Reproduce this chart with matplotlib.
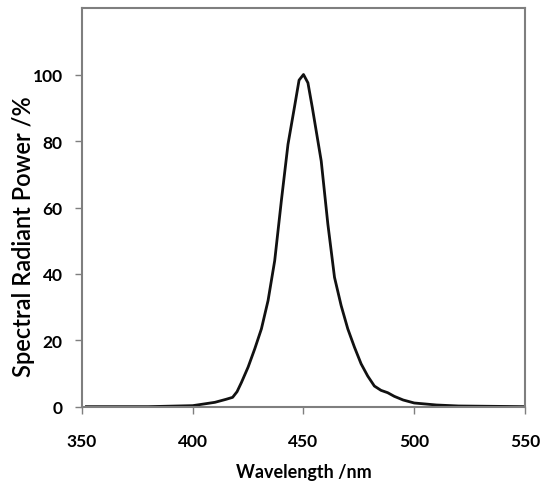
import matplotlib.pyplot as plt

# wavelength (nm) and relative spectral power (%)
wavelength = [352, 380, 400, 405, 410, 415, 418, 420, 422, 425, 428, 431, 434,
              437, 440, 443, 446, 448, 450, 452, 454, 456, 458, 461, 464, 467,
              470, 473, 476, 479, 482, 485, 488, 491, 495, 500, 505, 510, 520, 550]
power = [0.1, 0.1, 0.4, 0.9, 1.4, 2.3, 2.9, 4.6, 7.4, 12, 17.5, 23.5, 32,
         44, 62, 79, 90.5, 98.3, 100, 97.5, 90, 82, 74, 55, 39, 30.5,
         23.5, 18, 13, 9.3, 6.3, 5, 4.3, 3.2, 2.1, 1.2, 0.9, 0.6, 0.3, 0.1]

x_ticks = [350, 400, 450, 500, 550]
y_ticks = [0, 20, 40, 60, 80, 100]

plt.rcParams['font.family'] = ['Lato', 'DejaVu Sans']

fig = plt.figure(figsize=(5.42, 4.85), dpi=100)
ax = fig.add_axes([0.1513, 0.1588, 0.8173, 0.8226])

ax.plot(wavelength, power, color='#111111', lw=2.0)

ax.set_xlim(350, 550)
ax.set_ylim(0, 120)
ax.set_xticks(x_ticks)
ax.set_yticks(y_ticks)

for s in ax.spines.values():
    s.set_color('#7f7f7f')
    s.set_linewidth(1.5)

ax.tick_params(axis='both', direction='out', length=5, width=1.0, color='#7f7f7f',
               labelsize=12.5)
ax.tick_params(axis='x', pad=14)
ax.tick_params(axis='y', pad=9)
for lab in ax.get_xticklabels() + ax.get_yticklabels():
    lab.set_fontweight('bold')

ax.set_xlabel('Wavelength /nm', fontsize=13, fontweight='bold', labelpad=10)
ax.set_ylabel('Spectral Radiant Power /%', fontsize=17, fontweight='semibold')
ax.yaxis.set_label_coords(-0.105, 0.43)

fig.savefig('out.png', dpi=100)
